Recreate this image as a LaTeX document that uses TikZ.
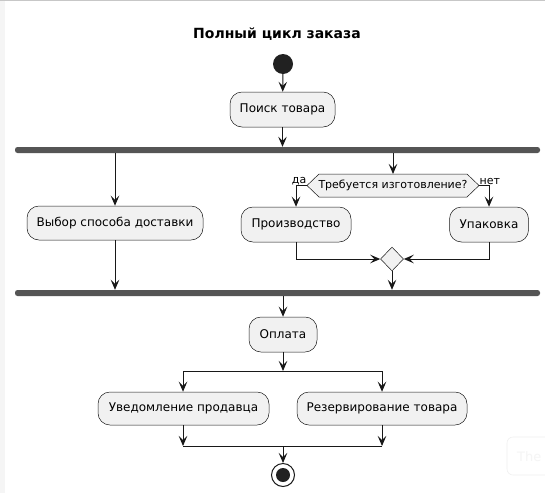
\documentclass[tikz,border=0pt]{standalone}
\usepackage{fontspec}
\setmainfont{DejaVu Sans}
\usetikzlibrary{arrows.meta,shapes.geometric}
\definecolor{boxfill}{HTML}{F1F1F1}
\definecolor{ink}{HTML}{181818}
\definecolor{barcol}{HTML}{555555}
\tikzset{
  act/.style={draw=ink,line width=0.5pt,fill=boxfill,rounded corners=12pt,inner sep=0pt,font=\fontsize{12}{14}\selectfont,text=black},
  conn/.style={draw=ink,line width=1pt},
  arr/.style={conn,-{Stealth[length=10pt,width=8.5pt,inset=4pt]}},
  bar/.style={fill=barcol,draw=none,rounded corners=2.5pt},
  lbl/.style={font=\fontsize{11}{13}\selectfont,inner sep=0pt,text=black},
}
\begin{document}
\begin{tikzpicture}[x=1pt,y=-1pt]
\useasboundingbox (0,0) rectangle (545,493);
\fill[white] (0,0) rectangle (545,493);
% faint frame artifacts
\fill[black!4] (0,0) rectangle (5,493);
\draw[black!22,line width=1.2pt] (0,0.6) -- (545,0.6);
\draw[black!6,line width=0.6pt,rounded corners=6pt] (545,437) -- (507,437) -- (507,475) -- (545,475);
\node[text=black!4,font=\fontsize{13}{15}\selectfont,anchor=west,inner sep=0pt] (ghost) at (517,457) {The};
% title
\node[font=\bfseries\fontsize{14}{16}\selectfont,inner sep=0pt] (title) at (277,34) {Полный цикл заказа};
% start
\node[circle,fill=black!87,minimum size=20pt,inner sep=0pt] (start) at (283,64) {};
% search
\node[act,minimum width=105pt,minimum height=35pt] (search) at (282.5,109.5) {Поиск товара};
\draw[arr] (start) -- (search);
% fork 1
\node[bar,minimum width=525pt,minimum height=6pt,inner sep=0pt,rectangle] (fork1) at (277.5,150) {};
\draw[arr] (search.south) -- (search.south |- fork1.north);
% left branch
\node[act,minimum width=176pt,minimum height=34pt] (deliv) at (115,223) {Выбор способа доставки};
\draw[arr] (deliv.north |- fork1.south) -- (deliv.north);
% decision hexagon
\coordinate (qL) at (307,185.5);
\coordinate (qR) at (479,185.5);
\path[draw=ink,line width=0.5pt,fill=boxfill] (qL) -- (319,174) -- (467,174) -- (qR) -- (467,197) -- (319,197) -- cycle;
\node[lbl] (q) at (393,185.5) {Требуется изготовление?};
\coordinate (qT) at (393,174);
\draw[arr] (qT |- fork1.south) -- (qT);
\node[lbl,anchor=south east] (yes) at (306.5,185) {да};
\node[lbl,anchor=south west] (no) at (479.5,185) {нет};
\node[act,minimum width=110pt,minimum height=35pt] (prod) at (296,224.5) {Производство};
\node[act,minimum width=79pt,minimum height=35pt] (pack) at (489,224.5) {Упаковка};
\draw[arr] (qL) -| (prod.north);
\draw[arr] (qR) -| (pack.north);
% merge diamond
\node[diamond,draw=ink,line width=0.5pt,fill=boxfill,minimum width=23pt,minimum height=24pt,inner sep=0pt] (merge) at (392,259) {};
\draw[arr] (prod.south) |- (merge.west);
\draw[arr] (pack.south) |- (merge.east);
% fork 2
\node[bar,minimum width=525pt,minimum height=6pt,inner sep=0pt,rectangle] (fork2) at (277.5,293) {};
\draw[arr] (deliv.south) -- (deliv.south |- fork2.north);
\draw[arr] (merge.south) -- (merge.south |- fork2.north);
% payment
\node[act,minimum width=68pt,minimum height=35pt] (pay) at (283,334.5) {Оплата};
\draw[arr] (pay.north |- fork2.south) -- (pay.north);
% split
\coordinate (sc) at (283,371);
\coordinate (sl) at (183,371);
\coordinate (sr) at (382,371);
\draw[arr] (pay.south) -- (sc);
\draw[conn] (sl) -- (sr);
\node[act,minimum width=171pt,minimum height=33pt] (notify) at (183.5,408.5) {Уведомление продавца};
\node[act,minimum width=170pt,minimum height=33pt] (reserve) at (382,408.5) {Резервирование товара};
\draw[arr] (sl) -- (sl |- notify.north);
\draw[arr] (sr) -- (sr |- reserve.north);
% join
\coordinate (jl) at (183,446);
\coordinate (jr) at (382,446);
\coordinate (jc) at (283,446);
\draw[arr] (jl |- notify.south) -- (jl);
\draw[arr] (jr |- reserve.south) -- (jr);
\draw[conn] (jl) -- (jr);
% end
\node[circle,draw=ink,line width=1pt,fill=white,minimum size=23pt,inner sep=0pt] (end) at (283,475) {};
\node[circle,fill=black!87,minimum size=14pt,inner sep=0pt] (endin) at (end.center) {};
\draw[arr] (jc) -- (end.north);
\end{tikzpicture}
\end{document}
